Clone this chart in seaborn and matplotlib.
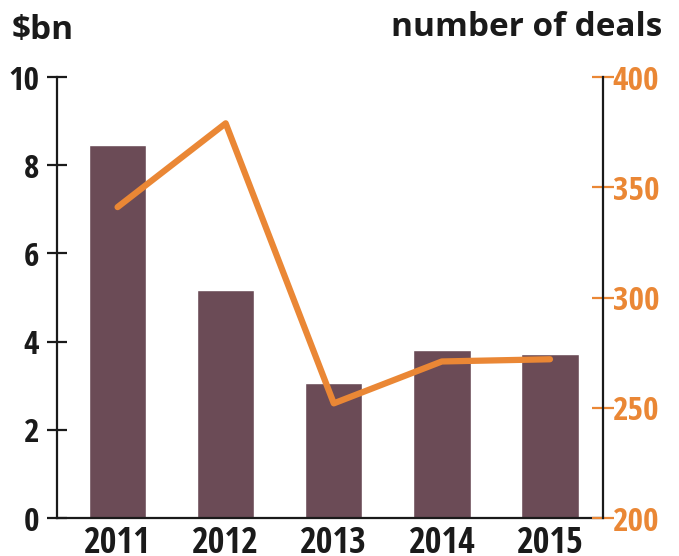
import matplotlib
matplotlib.use("Agg")
import matplotlib.pyplot as plt
import seaborn as sns
import pandas as pd
from matplotlib.font_manager import FontProperties

years = ["2011", "2012", "2013", "2014", "2015"]
value_bn = [8.46, 5.17, 3.06, 3.81, 3.72]
deals = [341, 379, 252, 271, 272]
left_ticks = [0, 2, 4, 6, 8, 10]
right_ticks = [200, 250, 300, 350, 400]

BAR = "#6b4b56"
ORANGE = "#ea8735"
INK = "#1a1a1a"

sns.set_theme(style="white")
FAM = ["Open Sans Condensed", "Open Sans", "DejaVu Sans"]
plt.rcParams["font.family"] = FAM

df = pd.DataFrame({"year": years, "value": value_bn, "deals": deals})

fig = plt.figure(figsize=(6.79, 5.56), dpi=100)
ax = fig.add_axes([0.084, 0.0683, 0.804, 0.7932])
sns.barplot(data=df, x="year", y="value", color=BAR, width=0.53, ax=ax, saturation=1)
ax2 = ax.twinx()
sns.pointplot(data=df, x="year", y="deals", color=ORANGE, ax=ax2, markers="", linewidth=4.5,
              errorbar=None)
for a in (ax, ax2):
    a.set_xlim(-0.56, 4.49)
ax.set_ylim(0, 10)
ax2.set_ylim(200, 400)
for a in (ax, ax2):
    a.set_xlabel("")
    a.set_ylabel("")
    for s in a.spines.values():
        s.set_visible(False)
ax.spines["left"].set_visible(True)
ax.spines["bottom"].set_visible(True)
ax2.spines["right"].set_visible(True)
for sp in (ax.spines["left"], ax.spines["bottom"], ax2.spines["right"]):
    sp.set_color(INK)
    sp.set_linewidth(1.6)

ax.tick_params(axis="y", left=True, direction="inout", length=14, width=1.6, color=INK,
               pad=6, labelcolor=INK)
ax.tick_params(axis="x", bottom=False, pad=0, labelcolor=INK)
ax2.tick_params(axis="y", right=True, direction="inout", length=16, width=1.6, color=ORANGE,
                pad=-1, labelcolor=ORANGE)

fp_y = FontProperties(family=FAM, weight="bold", stretch="condensed", size=24)
fp_x = FontProperties(family=FAM, weight="bold", stretch="condensed", size=26)
ax.set_yticks(left_ticks, [str(v) for v in left_ticks], fontproperties=fp_y)
ax2.set_yticks(right_ticks, [str(v) for v in right_ticks], fontproperties=fp_y)
ax.set_xticks(range(len(years)), years, fontproperties=fp_x)

title_fam = ["Open Sans", "DejaVu Sans"]
fig.text(12 / 679, 1 - 39 / 556, "$bn", fontsize=24, fontweight="bold", color=INK,
         family=title_fam, ha="left", va="baseline")
fig.text(662 / 679, 1 - 36 / 556, "number of deals", fontsize=24, fontweight="bold",
         family=title_fam, color=INK, ha="right", va="baseline")

fig.savefig("out.png", dpi=100)
